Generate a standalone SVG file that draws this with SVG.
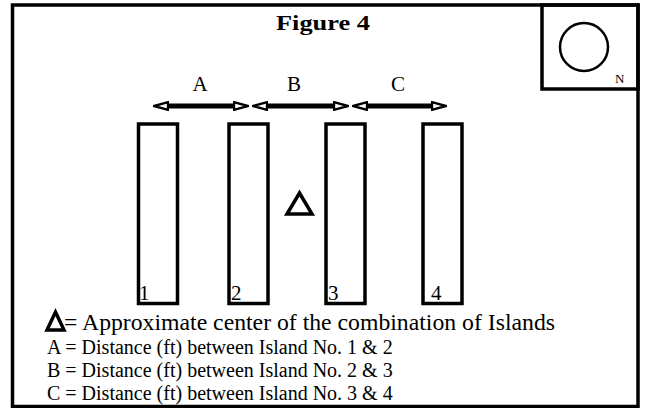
<svg xmlns="http://www.w3.org/2000/svg" width="647" height="408" viewBox="0 0 647 408">
  <style>
    .serif { font-family: "Liberation Serif", "Times New Roman", serif; fill: #000; }
    .title { font-size: 22px; font-weight: bold; }
    .lbl { font-size: 21px; }
    .num { font-size: 21px; }
    .legend { font-size: 20px; }
    .legend-main { font-size: 23.5px; }
    .island { fill: none; stroke: #000; stroke-width: 3.5; }
    .tri { fill: none; stroke: #000; stroke-width: 3.5; stroke-linejoin: miter; }
    .shaft { fill: none; stroke: #000; stroke-width: 5; marker-start: url(#head); marker-end: url(#head); }
  </style>
  <defs>
    <marker id="head" viewBox="0 0 16 10" refX="1" refY="5" markerWidth="16" markerHeight="10" markerUnits="userSpaceOnUse" orient="auto-start-reverse">
      <path d="M1,1.2 L15,5 L1,8.8 Z" fill="#fff" stroke="#000" stroke-width="2.4" stroke-linejoin="miter"/>
    </marker>
  </defs>
  <rect width="647" height="408" fill="#fff"/>

  <g id="frame">
    <rect x="12.5" y="5" width="625.5" height="401.5" fill="none" stroke="#000" stroke-width="3.5"/>
  </g>

  <g id="title">
    <text class="serif title" x="276" y="30" textLength="94" lengthAdjust="spacingAndGlyphs">Figure 4</text>
  </g>

  <g id="compass">
    <rect x="542" y="5" width="96" height="84" fill="none" stroke="#000" stroke-width="3.5"/>
    <circle cx="584" cy="47" r="24" fill="none" stroke="#000" stroke-width="2.5"/>
    <text class="serif" x="615" y="83" font-size="13">N</text>
  </g>

  <g id="island-1">
    <rect class="island" x="138.5" y="124" width="39" height="179.5"/>
    <text class="serif num" x="139" y="300">1</text>
  </g>
  <g id="island-2">
    <rect class="island" x="229" y="124" width="39" height="179.5"/>
    <text class="serif num" x="231" y="300">2</text>
  </g>
  <g id="island-3">
    <rect class="island" x="326" y="124" width="39" height="179.5"/>
    <text class="serif num" x="328" y="300">3</text>
  </g>
  <g id="island-4">
    <rect class="island" x="423" y="124" width="39" height="179.5"/>
    <text class="serif num" x="431" y="300">4</text>
  </g>

  <g id="center-marker">
    <polygon class="tri" points="287,214 312,214 299.5,193"/>
  </g>

  <g id="connectors">
    <path id="arrow-A" class="shaft" d="M168,106 L234,106"/>
    <path id="arrow-B" class="shaft" d="M267,106 L334,106"/>
    <path id="arrow-C" class="shaft" d="M367,106 L432,106"/>
  </g>

  <g id="distance-labels">
    <text class="serif lbl" x="200" y="91" text-anchor="middle">A</text>
    <text class="serif lbl" x="294" y="91" text-anchor="middle">B</text>
    <text class="serif lbl" x="398" y="91" text-anchor="middle">C</text>
  </g>

  <g id="legend">
    <polygon class="tri" points="47,330 64,330 55.5,312"/>
    <text class="serif legend-main" x="64" y="330" textLength="491" lengthAdjust="spacingAndGlyphs">= Approximate center of the combination of Islands</text>
    <text class="serif legend" x="47" y="354">A = Distance (ft) between Island No. 1 &amp; 2</text>
    <text class="serif legend" x="47" y="377">B = Distance (ft) between Island No. 2 &amp; 3</text>
    <text class="serif legend" x="47" y="400">C = Distance (ft) between Island No. 3 &amp; 4</text>
  </g>
</svg>
